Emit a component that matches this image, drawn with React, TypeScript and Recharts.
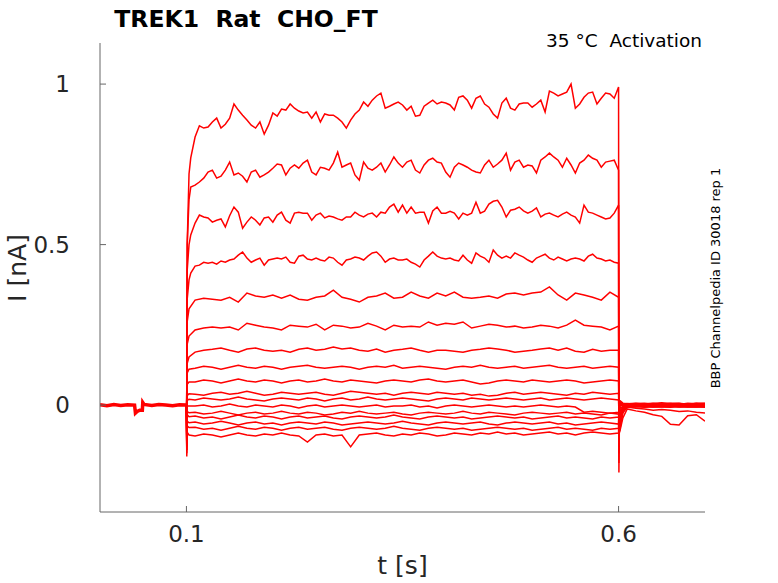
import React from "react";
import { Line, LineChart, XAxis, YAxis } from "recharts";

// Activation traces, current in nA.
// Top four traces: samples every 5 ms from 0.105 s to 0.600 s.
const trace1 = [
  0.770, 0.835, 0.870, 0.863, 0.866, 0.882, 0.894, 0.863, 0.875, 0.894,
  0.938, 0.919, 0.903, 0.888, 0.872, 0.863, 0.882, 0.844, 0.872, 0.910,
  0.900, 0.922, 0.919, 0.938, 0.925, 0.916, 0.910, 0.913, 0.894, 0.913,
  0.882, 0.907, 0.903, 0.903, 0.894, 0.882, 0.863, 0.888, 0.907, 0.919,
  0.944, 0.931, 0.950, 0.963, 0.972, 0.925, 0.931, 0.938, 0.944, 0.935,
  0.919, 0.931, 0.900, 0.903, 0.931, 0.941, 0.950, 0.938, 0.944, 0.941,
  0.935, 0.919, 0.959, 0.963, 0.950, 0.925, 0.956, 0.963, 0.938, 0.928,
  0.907, 0.894, 0.941, 0.956, 0.925, 0.919, 0.938, 0.941, 0.941, 0.928,
  0.938, 0.950, 0.913, 0.978, 0.972, 0.963, 0.969, 0.975, 1.000, 0.925,
  0.938, 0.959, 0.972, 0.975, 0.938, 0.956, 0.972, 0.969, 0.956, 0.991,
];
const trace2 = [
  0.679, 0.685, 0.695, 0.707, 0.726, 0.732, 0.707, 0.713, 0.732, 0.757,
  0.717, 0.723, 0.713, 0.695, 0.726, 0.732, 0.710, 0.717, 0.726, 0.738,
  0.751, 0.748, 0.717, 0.738, 0.748, 0.738, 0.754, 0.763, 0.726, 0.717,
  0.741, 0.738, 0.732, 0.754, 0.788, 0.741, 0.748, 0.754, 0.717, 0.701,
  0.757, 0.738, 0.732, 0.741, 0.754, 0.726, 0.748, 0.773, 0.754, 0.741,
  0.757, 0.763, 0.732, 0.723, 0.748, 0.763, 0.769, 0.757, 0.754, 0.726,
  0.710, 0.741, 0.754, 0.748, 0.741, 0.732, 0.726, 0.723, 0.748, 0.763,
  0.741, 0.751, 0.763, 0.785, 0.732, 0.757, 0.763, 0.741, 0.748, 0.745,
  0.723, 0.763, 0.773, 0.785, 0.773, 0.763, 0.741, 0.769, 0.748, 0.723,
  0.754, 0.763, 0.779, 0.769, 0.763, 0.741, 0.757, 0.760, 0.763, 0.732,
];
const trace3 = [
  0.530, 0.567, 0.592, 0.586, 0.583, 0.570, 0.576, 0.580, 0.555, 0.590,
  0.617, 0.601, 0.551, 0.570, 0.586, 0.576, 0.561, 0.583, 0.586, 0.570,
  0.592, 0.601, 0.576, 0.567, 0.598, 0.601, 0.598, 0.598, 0.576, 0.592,
  0.598, 0.583, 0.589, 0.586, 0.580, 0.576, 0.586, 0.586, 0.601, 0.592,
  0.586, 0.595, 0.598, 0.586, 0.601, 0.598, 0.617, 0.626, 0.601, 0.623,
  0.598, 0.617, 0.598, 0.601, 0.601, 0.567, 0.605, 0.617, 0.598, 0.598,
  0.604, 0.598, 0.580, 0.598, 0.592, 0.598, 0.632, 0.598, 0.604, 0.626,
  0.635, 0.638, 0.617, 0.586, 0.607, 0.610, 0.617, 0.605, 0.598, 0.604,
  0.614, 0.586, 0.595, 0.598, 0.592, 0.586, 0.595, 0.601, 0.592, 0.586,
  0.567, 0.623, 0.601, 0.598, 0.592, 0.586, 0.580, 0.583, 0.598, 0.623,
];
const trace4 = [
  0.411, 0.433, 0.436, 0.445, 0.442, 0.445, 0.439, 0.449, 0.445, 0.452,
  0.455, 0.467, 0.477, 0.458, 0.445, 0.452, 0.458, 0.436, 0.452, 0.455,
  0.458, 0.455, 0.461, 0.445, 0.442, 0.464, 0.467, 0.455, 0.452, 0.458,
  0.452, 0.449, 0.461, 0.458, 0.445, 0.436, 0.452, 0.455, 0.461, 0.458,
  0.452, 0.464, 0.474, 0.477, 0.464, 0.445, 0.455, 0.458, 0.452, 0.452,
  0.455, 0.445, 0.439, 0.430, 0.452, 0.464, 0.477, 0.464, 0.458, 0.455,
  0.458, 0.452, 0.449, 0.467, 0.452, 0.442, 0.474, 0.464, 0.458, 0.445,
  0.483, 0.467, 0.458, 0.464, 0.458, 0.474, 0.467, 0.461, 0.452, 0.445,
  0.458, 0.464, 0.470, 0.458, 0.452, 0.461, 0.455, 0.449, 0.455, 0.458,
  0.455, 0.449, 0.464, 0.470, 0.458, 0.455, 0.449, 0.452, 0.445, 0.442,
];

// Remaining traces: samples every 10 ms from 0.11 s to 0.60 s.
const trace5 = [
  0.327, 0.333, 0.330, 0.327, 0.336, 0.321, 0.349, 0.340, 0.336, 0.343,
  0.333, 0.343, 0.330, 0.327, 0.336, 0.340, 0.358, 0.336, 0.330, 0.321,
  0.336, 0.340, 0.349, 0.333, 0.336, 0.352, 0.340, 0.333, 0.349, 0.340,
  0.352, 0.336, 0.333, 0.336, 0.340, 0.333, 0.346, 0.349, 0.343, 0.349,
  0.352, 0.368, 0.343, 0.327, 0.349, 0.343, 0.336, 0.327, 0.352, 0.336,
];
const trace6 = [
  0.234, 0.240, 0.243, 0.240, 0.243, 0.234, 0.255, 0.249, 0.243, 0.240,
  0.234, 0.249, 0.246, 0.243, 0.252, 0.234, 0.249, 0.246, 0.240, 0.243,
  0.255, 0.246, 0.234, 0.249, 0.243, 0.246, 0.243, 0.259, 0.249, 0.255,
  0.252, 0.259, 0.240, 0.246, 0.252, 0.249, 0.243, 0.246, 0.240, 0.243,
  0.249, 0.246, 0.240, 0.249, 0.265, 0.249, 0.246, 0.243, 0.234, 0.246,
];
const trace7 = [
  0.165, 0.171, 0.174, 0.178, 0.171, 0.165, 0.175, 0.178, 0.171, 0.168,
  0.171, 0.165, 0.174, 0.178, 0.171, 0.174, 0.181, 0.175, 0.178, 0.171,
  0.168, 0.175, 0.165, 0.171, 0.174, 0.178, 0.171, 0.165, 0.171, 0.171,
  0.168, 0.165, 0.171, 0.174, 0.178, 0.175, 0.171, 0.165, 0.168, 0.171,
  0.175, 0.178, 0.171, 0.178, 0.168, 0.165, 0.174, 0.168, 0.171, 0.171,
];
const trace8 = [
  0.115, 0.121, 0.118, 0.112, 0.118, 0.124, 0.118, 0.115, 0.121, 0.118,
  0.112, 0.118, 0.121, 0.124, 0.118, 0.115, 0.118, 0.121, 0.118, 0.112,
  0.118, 0.121, 0.118, 0.124, 0.115, 0.118, 0.121, 0.118, 0.115, 0.112,
  0.118, 0.121, 0.118, 0.124, 0.118, 0.115, 0.118, 0.121, 0.115, 0.118,
  0.121, 0.124, 0.118, 0.115, 0.118, 0.121, 0.115, 0.118, 0.121, 0.118,
];
const trace9 = [
  0.072, 0.078, 0.075, 0.069, 0.075, 0.081, 0.075, 0.072, 0.078, 0.075,
  0.069, 0.075, 0.078, 0.072, 0.075, 0.081, 0.075, 0.072, 0.078, 0.075,
  0.072, 0.069, 0.075, 0.078, 0.075, 0.072, 0.078, 0.081, 0.075, 0.072,
  0.075, 0.078, 0.072, 0.066, 0.069, 0.075, 0.078, 0.075, 0.072, 0.078,
  0.075, 0.072, 0.075, 0.078, 0.075, 0.069, 0.072, 0.075, 0.078, 0.075,
];
const trace10 = [
  0.034, 0.031, 0.037, 0.040, 0.034, 0.037, 0.043, 0.037, 0.031, 0.034,
  0.040, 0.037, 0.034, 0.037, 0.040, 0.034, 0.031, 0.037, 0.043, 0.040,
  0.037, 0.034, 0.037, 0.031, 0.037, 0.040, 0.037, 0.034, 0.040, 0.037,
  0.034, 0.037, 0.031, 0.034, 0.028, 0.031, 0.037, 0.040, 0.034, 0.037,
  0.040, 0.037, 0.034, 0.031, 0.037, 0.034, 0.040, 0.037, 0.034, 0.037,
];
const trace11 = [
  0.016, 0.022, 0.019, 0.016, 0.019, 0.025, 0.019, 0.016, 0.013, 0.019,
  0.022, 0.019, 0.016, 0.022, 0.019, 0.013, 0.019, 0.022, 0.016, 0.019,
  0.025, 0.019, 0.016, 0.019, 0.022, 0.019, 0.016, 0.013, 0.019, 0.022,
  0.019, 0.016, 0.022, 0.019, 0.016, 0.019, 0.022, 0.019, 0.016, 0.019,
  0.022, 0.016, 0.019, 0.022, 0.019, 0.016, 0.019, 0.022, 0.019, 0.016,
];
const trace12 = [
  -0.003, 0.000, -0.006, -0.003, 0.003, -0.003, -0.006, 0.000, -0.003, -0.006,
  0.000, -0.003, -0.009, -0.003, 0.000, -0.006, -0.003, 0.000, -0.003, -0.006,
  -0.003, 0.000, -0.006, -0.003, -0.003, 0.000, -0.006, -0.003, -0.009, -0.003,
  0.000, -0.003, -0.006, -0.003, 0.000, -0.003, -0.006, -0.003, -0.006, -0.003,
  0.000, -0.003, -0.006, -0.003, -0.006, -0.022, -0.019, -0.022, -0.025, -0.022,
];
const trace13 = [
  -0.022, -0.028, -0.025, -0.019, -0.025, -0.031, -0.025, -0.022, -0.028, -0.025,
  -0.019, -0.025, -0.028, -0.022, -0.025, -0.031, -0.028, -0.022, -0.025, -0.019,
  -0.025, -0.028, -0.025, -0.022, -0.028, -0.031, -0.025, -0.022, -0.025, -0.028,
  -0.025, -0.019, -0.025, -0.028, -0.022, -0.025, -0.028, -0.031, -0.025, -0.022,
  -0.025, -0.028, -0.025, -0.022, -0.028, -0.025, -0.028, -0.031, -0.025, -0.028,
];
const trace14 = [
  -0.034, -0.040, -0.037, -0.043, -0.037, -0.031, -0.037, -0.040, -0.034, -0.037,
  -0.043, -0.037, -0.034, -0.040, -0.037, -0.034, -0.040, -0.043, -0.037, -0.034,
  -0.037, -0.040, -0.037, -0.031, -0.037, -0.040, -0.043, -0.037, -0.034, -0.037,
  -0.040, -0.037, -0.043, -0.040, -0.037, -0.034, -0.037, -0.040, -0.037, -0.043,
  -0.040, -0.037, -0.034, -0.040, -0.037, -0.040, -0.043, -0.037, -0.040, -0.037,
];
const trace15 = [
  -0.053, -0.059, -0.056, -0.050, -0.056, -0.062, -0.056, -0.053, -0.059, -0.056,
  -0.062, -0.056, -0.053, -0.056, -0.059, -0.053, -0.056, -0.062, -0.059, -0.056,
  -0.053, -0.056, -0.059, -0.056, -0.050, -0.056, -0.059, -0.062, -0.056, -0.053,
  -0.056, -0.059, -0.056, -0.053, -0.059, -0.062, -0.056, -0.053, -0.056, -0.059,
  -0.056, -0.053, -0.059, -0.056, -0.062, -0.059, -0.056, -0.053, -0.056, -0.059,
];
const trace16 = [
  -0.069, -0.075, -0.072, -0.078, -0.072, -0.066, -0.072, -0.075, -0.069, -0.072,
  -0.078, -0.072, -0.069, -0.075, -0.072, -0.069, -0.075, -0.078, -0.072, -0.069,
  -0.072, -0.075, -0.072, -0.066, -0.072, -0.075, -0.078, -0.072, -0.069, -0.072,
  -0.075, -0.072, -0.078, -0.075, -0.072, -0.069, -0.072, -0.075, -0.072, -0.078,
  -0.075, -0.072, -0.069, -0.075, -0.072, -0.075, -0.078, -0.072, -0.075, -0.072,
];
const trace17 = [
  -0.096, -0.090, -0.093, -0.099, -0.093, -0.087, -0.093, -0.096, -0.090, -0.093,
  -0.087, -0.093, -0.096, -0.115, -0.093, -0.090, -0.096, -0.093, -0.130, -0.093,
  -0.090, -0.087, -0.093, -0.096, -0.090, -0.093, -0.087, -0.090, -0.096, -0.093,
  -0.087, -0.090, -0.093, -0.087, -0.090, -0.084, -0.090, -0.087, -0.093, -0.090,
  -0.087, -0.084, -0.090, -0.087, -0.093, -0.087, -0.084, -0.087, -0.090, -0.087,
];

// Capacitive transients and onset, one value per trace (trace1..trace17)
const spikeOn = [0.05, 0.02, 0.0, -0.03, -0.05, -0.06, -0.08, -0.09, -0.1, -0.11, -0.12, -0.12, -0.13, -0.14, -0.14, -0.15, -0.16];
const onsetA = [0.5, 0.5, 0.42, 0.33, 0.26, 0.19, 0.13, 0.1, 0.065, 0.03, 0.015, -0.003, -0.02, -0.03, -0.05, -0.065, -0.085];
const onsetB = [0.72, 0.64, 0.5, 0.39, 0.3, 0.215, 0.15, 0.112, 0.072, 0.035, 0.018, -0.003, -0.024, -0.036, -0.055, -0.07, -0.093];
const spikeOff = [-0.21, -0.18, -0.15, -0.12, -0.1, -0.08, -0.06, -0.05, -0.04, -0.03, -0.03, -0.02, -0.02, -0.01, -0.01, 0.0, 0.0];
const offA = [0.015, 0.01, 0.01, 0.005, 0.005, 0.0, 0.0, -0.01, -0.02, -0.03, -0.04, -0.05, -0.06, -0.07, -0.08, -0.06, -0.085];
const offB = [0.006, 0.004, 0.003, 0.002, 0.0, 0.0, -0.002, -0.004, -0.006, -0.008, -0.01, -0.012, -0.015, -0.02, -0.025, -0.015, -0.04];

// Tail currents after the step, every 10 ms from 0.61 s to 0.70 s
const tails = [
  [0.004, 0.006, 0.003, 0.005, 0.007, 0.004, 0.006, 0.003, 0.005, 0.006],
  [0.003, 0.005, 0.006, 0.002, 0.004, 0.006, 0.005, 0.003, 0.006, 0.004],
  [0.005, 0.002, 0.004, 0.006, 0.003, 0.005, 0.002, 0.006, 0.004, 0.005],
  [0.002, 0.004, 0.001, 0.003, 0.005, 0.002, 0.004, 0.003, 0.001, 0.004],
  [0.001, 0.003, 0.004, 0.001, 0.002, 0.004, 0.001, 0.003, 0.005, 0.002],
  [0.003, 0.0, 0.002, 0.004, 0.001, 0.003, 0.0, 0.002, 0.004, 0.003],
  [0.0, 0.002, 0.003, 0.0, 0.002, 0.001, 0.003, 0.0, 0.002, 0.001],
  [0.002, -0.001, 0.001, 0.002, -0.001, 0.002, 0.001, -0.001, 0.002, 0.0],
  [-0.001, 0.001, -0.002, 0.001, 0.0, -0.002, 0.001, 0.0, -0.001, 0.001],
  [0.0, -0.002, 0.001, -0.001, 0.001, 0.0, -0.002, 0.001, 0.0, -0.002],
  [-0.002, 0.0, -0.003, 0.0, -0.002, -0.001, 0.0, -0.003, -0.001, 0.0],
  [-0.003, -0.001, -0.002, -0.004, -0.001, -0.003, -0.002, -0.004, -0.002, -0.003],
  [-0.004, -0.002, -0.005, -0.003, -0.004, -0.002, -0.005, -0.003, -0.004, -0.005],
  [-0.005, -0.006, -0.004, -0.006, -0.005, -0.004, -0.006, -0.005, -0.006, -0.004],
  [-0.006, -0.004, -0.007, -0.005, -0.006, -0.007, -0.004, -0.006, -0.005, -0.007],
  [-0.006, -0.01, -0.012, -0.016, -0.014, -0.016, -0.02, -0.018, -0.022, -0.025],
  [-0.012, -0.018, -0.022, -0.03, -0.035, -0.06, -0.062, -0.033, -0.03, -0.05],
];

// Holding current before the step
const baseT = [0, 0.008, 0.016, 0.024, 0.032, 0.04, 0.041, 0.043, 0.046, 0.049, 0.0495, 0.051, 0.06, 0.068, 0.076, 0.084, 0.092, 0.1];
const baseV = [0.001, -0.002, 0.002, -0.001, 0.001, 0.0, -0.025, -0.02, -0.016, -0.016, 0.008, 0.002, -0.001, 0.002, 0.0, -0.002, 0.001, 0.0];

const xTicks = [0.1, 0.6];
const yTicks = [0, 0.5, 1];

type Pt = { t: number; v: number };

const buildTrace = (i: number, vals: number[], start: number, step: number): Pt[] => {
  const pts: Pt[] = [
    { t: 0.1, v: 0 },
    { t: 0.1004, v: spikeOn[i] },
    { t: 0.1009, v: onsetA[i] },
    { t: 0.103, v: onsetB[i] },
  ];
  vals.forEach((v, k) => pts.push({ t: +(start + step * k).toFixed(4), v }));
  pts.push({ t: 0.6004, v: spikeOff[i] }, { t: 0.6012, v: offA[i] }, { t: 0.605, v: offB[i] });
  tails[i].forEach((v, k) => pts.push({ t: +(0.61 + 0.01 * k).toFixed(3), v }));
  return pts;
};

const hiTraces = [trace1, trace2, trace3, trace4];
const loTraces = [trace5, trace6, trace7, trace8, trace9, trace10, trace11, trace12, trace13, trace14, trace15, trace16, trace17];

const series: Pt[][] = [
  ...hiTraces.map((vals, i) => buildTrace(i, vals, 0.105, 0.005)),
  ...loTraces.map((vals, i) => buildTrace(i + 4, vals, 0.11, 0.01)),
];
const baseline: Pt[] = baseT.map((t, k) => ({ t, v: baseV[k] }));

const FONT = "DejaVu Sans";
const AXIS = "#666666";
const INK = "#262626";

const XTick = (props: any) => {
  const { x, y, payload } = props;
  return (
    <g>
      <line x1={x} x2={x} y1={y} y2={y - 6} stroke={AXIS} />
      <text x={x} y={y + 30} textAnchor="middle" fontSize={23} fontFamily={FONT} fill={INK}>
        {payload.value}
      </text>
    </g>
  );
};

const YTick = (props: any) => {
  const { x, y, payload } = props;
  return (
    <g>
      <line x1={x} x2={x + 6} y1={y} y2={y} stroke={AXIS} />
      <text x={x - 30} y={y + 8} textAnchor="end" fontSize={23} fontFamily={FONT} fill={INK}>
        {payload.value}
      </text>
    </g>
  );
};

const App = () => {
  return (
    <div style={{ position: "absolute", left: 0, top: 0, width: 778, height: 583, background: "#fff" }}>
      <LineChart width={778} height={583} margin={{ top: 43, right: 73, bottom: 0, left: 0 }}>
        <XAxis
          type="number"
          dataKey="t"
          domain={[0, 0.7]}
          ticks={xTicks}
          allowDataOverflow
          height={71}
          tickSize={0}
          tickMargin={0}
          tick={<XTick />}
          axisLine={{ stroke: AXIS }}
        />
        <YAxis
          type="number"
          dataKey="v"
          domain={[-0.333, 1.128]}
          ticks={yTicks}
          allowDataOverflow
          width={100}
          tickSize={0}
          tickMargin={0}
          tick={<YTick />}
          axisLine={{ stroke: AXIS }}
        />
        <Line
          data={baseline}
          dataKey="v"
          name="holding"
          type="linear"
          dot={false}
          stroke="#ff0000"
          strokeWidth={3.5}
          isAnimationActive={false}
        />
        {series.map((pts, i) => (
          <Line
            key={i}
            data={pts}
            dataKey="v"
            name={`trace${i + 1}`}
            type="linear"
            dot={false}
            stroke="#ff0000"
            strokeWidth={1.5}
            isAnimationActive={false}
          />
        ))}
      </LineChart>
      <svg
        width={778}
        height={583}
        style={{ position: "absolute", left: 0, top: 0, pointerEvents: "none" }}
      >
        <text x={246} y={26.5} textAnchor="middle" fontSize={23.5} fontWeight="bold" fontFamily={FONT} fill="#000" style={{ whiteSpace: "pre" }}>
          {"TREK1  Rat  CHO_FT"}
        </text>
        <text x={702} y={47} textAnchor="end" fontSize={18.5} fontFamily={FONT} fill="#000" style={{ whiteSpace: "pre" }}>
          {"35 °C  Activation"}
        </text>
        <text x={402.5} y={574} textAnchor="middle" fontSize={25} fontFamily={FONT} fill={INK}>
          t [s]
        </text>
        <text x={26} y={268} textAnchor="middle" fontSize={25} fontFamily={FONT} fill={INK} transform="rotate(-90 26 268)">
          I [nA]
        </text>
        <text x={720} y={278} textAnchor="middle" fontSize={13} fontFamily={FONT} fill="#000" transform="rotate(-90 720 278)">
          BBP Channelpedia ID 30018 rep 1
        </text>
      </svg>
    </div>
  );
};

export default App;
